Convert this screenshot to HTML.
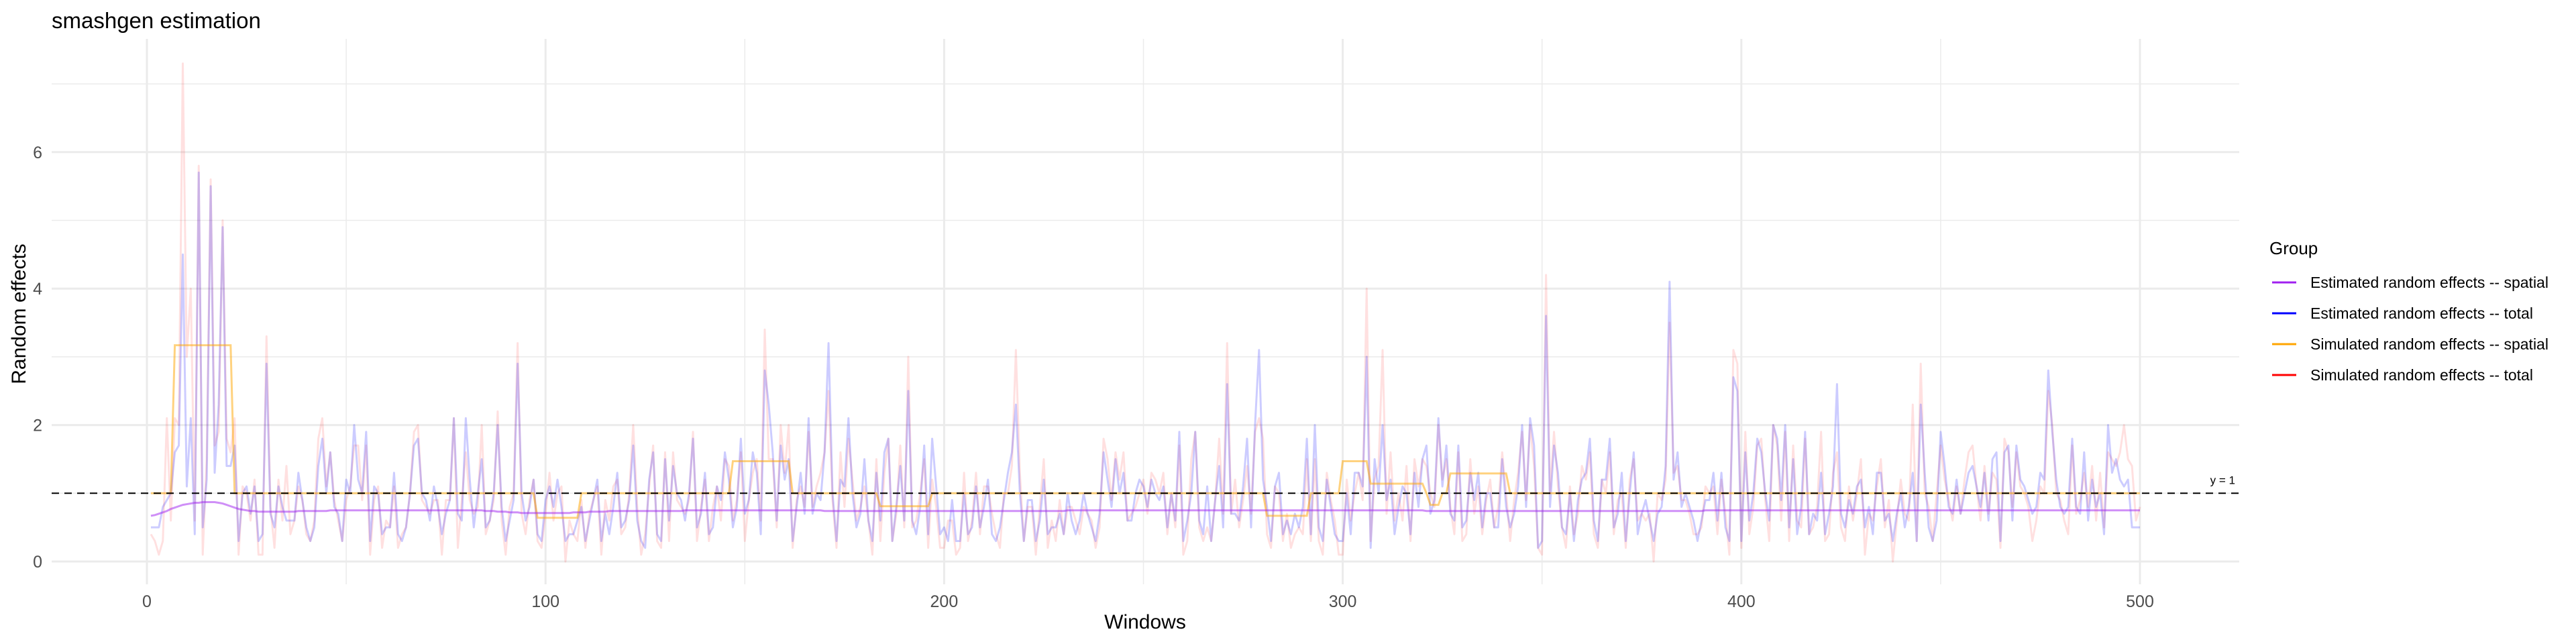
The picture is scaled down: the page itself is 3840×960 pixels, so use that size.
<!DOCTYPE html>
<html><head><meta charset="utf-8">
<style>
html,body{margin:0;padding:0;background:#fff;}
svg{display:block;font-family:"Liberation Sans",sans-serif;}
</style></head>
<body>
<svg id="chart" width="3840" height="960" viewBox="0 0 3840 960" xmlns="http://www.w3.org/2000/svg">
  <text x="77" y="42" font-size="33" fill="#000">smashgen estimation</text>
  <g id="grid"></g>
  <g id="series"></g>
  <g id="axes"></g>
  <text x="1707" y="937" font-size="30" text-anchor="middle" fill="#000">Windows</text>
  <text transform="translate(38,468) rotate(-90)" font-size="30" text-anchor="middle" fill="#000">Random effects</text>
  <g>
    <text x="3383" y="379" font-size="26" fill="#000">Group</text>
    <g>
      <line x1="3387" y1="421" x2="3423" y2="421" stroke="#a020f0" stroke-width="3"/>
      <text x="3444" y="429" font-size="23" fill="#000">Estimated random effects -- spatial</text>
    </g>
    <g>
      <line x1="3387" y1="467" x2="3423" y2="467" stroke="#0000ff" stroke-width="3"/>
      <text x="3444" y="475" font-size="23" fill="#000">Estimated random effects -- total</text>
    </g>
    <g>
      <line x1="3387" y1="513" x2="3423" y2="513" stroke="#ffa500" stroke-width="3"/>
      <text x="3444" y="521" font-size="23" fill="#000">Simulated random effects -- spatial</text>
    </g>
    <g>
      <line x1="3387" y1="559" x2="3423" y2="559" stroke="#ff0000" stroke-width="3"/>
      <text x="3444" y="567" font-size="23" fill="#000">Simulated random effects -- total</text>
    </g>
  </g>
</svg>
<script>
const xTicks = [0,100,200,300,400,500];
const xMinorTicks = [50,150,250,350,450];
const yTicks = [0,2,4,6];
const yMinorTicks = [1,3,5,7];
const refLineValue = 1;
const refLineLabel = "y = 1";

const estTotal = [
0.5,0.5,0.5,0.8,0.9,1.0,1.6,1.7,4.5,1.1,2.1,0.4,5.7,0.5,1.2,5.5,1.3,2.3,4.9,1.4,1.4,1.7,0.3,1.0,1.1,
0.7,1.1,0.3,0.4,2.9,0.7,0.5,1.1,0.8,0.6,0.6,0.6,1.3,0.9,0.5,0.3,0.5,1.4,1.8,1.0,1.6,0.8,0.7,0.3,1.2,
1.0,2.0,1.2,1.0,1.9,0.3,1.1,1.0,0.4,0.5,0.5,1.3,0.4,0.3,0.5,1.0,1.7,1.8,1.0,0.9,0.6,1.1,0.8,0.4,0.7,
0.9,2.1,0.7,0.6,2.1,1.2,0.5,1.0,1.5,0.5,0.6,1.0,2.0,0.8,0.3,0.6,0.9,2.9,1.0,0.6,0.8,1.2,0.4,0.3,0.9,
1.1,0.8,1.2,0.8,0.3,0.4,0.4,0.6,0.8,0.3,0.6,0.9,1.2,0.3,0.7,0.4,0.8,1.3,0.5,0.6,0.9,1.7,0.6,0.3,0.2,
1.2,1.6,0.4,0.3,1.5,0.6,1.4,1.0,0.9,0.6,1.0,1.8,0.5,0.7,1.3,0.4,0.5,1.1,0.9,1.6,1.2,0.5,0.8,1.8,0.7,
0.9,1.6,1.3,0.4,2.8,2.3,1.6,0.6,1.7,1.2,1.5,0.3,0.8,1.3,0.7,2.1,0.7,1.0,0.9,1.6,3.2,1.0,0.3,1.2,1.1,
2.1,1.0,0.5,0.7,1.5,0.6,0.3,1.3,0.6,1.6,1.8,0.3,0.8,1.4,0.6,2.5,0.6,0.4,0.8,1.7,0.4,1.8,1.1,0.4,0.5,
0.3,0.9,0.3,0.3,1.0,0.4,0.5,1.1,0.5,0.8,1.2,0.4,0.3,0.5,0.9,1.3,1.6,2.3,1.0,0.3,0.9,0.9,0.3,0.6,1.2,
0.4,0.5,0.5,0.7,0.4,1.0,0.6,0.4,0.6,1.0,0.7,0.5,0.3,0.7,1.6,1.2,0.8,1.5,1.0,1.3,0.6,0.6,1.0,1.2,1.1,
0.8,1.2,1.0,0.9,1.1,0.5,1.0,0.6,1.9,0.3,0.6,1.0,1.9,0.6,0.4,1.1,0.3,0.9,1.4,0.5,2.6,0.7,0.7,0.6,1.1,
1.8,0.5,2.0,3.1,1.2,0.8,0.3,1.1,1.3,0.4,0.6,0.4,0.7,0.5,0.8,1.8,0.4,2.0,0.5,0.3,1.2,0.8,0.4,0.3,0.3,
1.0,0.4,1.3,1.3,1.1,3.0,0.2,1.5,1.0,2.0,0.9,1.2,0.4,0.8,1.1,1.0,0.4,1.3,0.8,1.5,1.7,0.7,0.9,2.1,1.1,
1.7,0.7,0.6,1.7,0.5,0.6,1.3,0.9,1.3,0.5,1.0,1.0,0.5,0.5,1.5,0.8,0.5,0.7,1.1,2.0,0.8,2.1,1.7,0.2,0.3,
3.6,0.8,1.7,1.3,0.5,0.4,1.0,0.3,0.9,1.2,1.3,1.8,0.6,0.3,1.2,1.2,1.8,0.5,0.7,1.3,0.3,1.0,1.6,0.4,0.7,
0.9,0.6,0.3,0.7,0.8,1.4,4.1,1.2,1.6,0.8,1.0,0.8,0.6,0.3,0.6,0.9,0.9,1.3,0.6,1.3,0.5,0.3,2.7,2.5,0.3,
1.6,0.6,1.0,1.8,1.6,1.0,0.6,2.0,1.8,0.9,2.0,0.5,1.5,0.4,0.8,1.9,0.4,0.7,0.6,1.3,0.4,0.7,1.1,2.6,0.7,
0.5,0.9,0.7,1.1,1.2,0.5,0.8,0.4,1.3,1.3,0.6,0.7,0.3,0.7,1.0,0.5,0.8,1.3,0.3,2.3,1.3,0.5,0.3,0.6,1.9,
1.4,0.8,0.7,1.2,0.7,1.0,1.3,1.4,1.1,0.8,1.3,0.6,1.5,1.6,0.3,1.6,1.7,0.6,1.7,1.2,1.1,0.9,0.7,0.8,1.3,
1.2,2.8,1.9,1.2,0.8,0.7,0.8,1.8,0.8,0.7,1.6,0.6,1.2,0.8,1.0,0.4,2.0,1.3,1.5,1.2,1.1,1.2,0.5,0.5,0.5
];

const simTotal = [
0.4,0.3,0.1,0.3,2.1,0.6,2.1,2.0,7.3,3.0,4.0,0.6,5.8,0.1,1.5,5.6,1.7,1.9,5.0,1.8,1.6,2.1,0.1,1.1,1.0,
0.6,1.2,0.1,0.1,3.3,0.8,0.2,1.2,0.6,1.4,0.4,0.6,1.1,0.9,0.4,0.3,0.6,1.8,2.1,1.1,1.6,0.9,0.6,0.3,0.9,
1.1,1.7,1.7,0.9,1.7,0.1,0.9,1.1,0.2,0.6,0.5,1.1,0.2,0.4,0.5,1.0,1.9,2.0,0.9,0.8,0.7,0.9,0.9,0.1,0.9,
0.9,2.1,0.2,0.9,1.6,0.9,0.7,0.8,2.0,0.4,0.6,0.9,2.2,0.6,0.1,0.8,1.0,3.2,0.7,0.4,0.9,1.2,0.3,0.2,0.7,
1.3,0.6,1.0,1.1,0.0,0.6,0.4,0.3,0.9,0.2,0.7,0.9,1.1,0.1,0.9,0.6,1.1,1.2,0.4,0.5,1.0,2.0,0.8,0.1,0.4,
1.1,1.7,0.3,0.2,1.6,0.3,1.6,0.9,0.8,0.7,0.9,1.9,0.3,0.8,1.2,0.3,0.8,1.1,0.6,1.5,1.4,0.6,0.9,1.6,0.3,
0.9,1.3,1.5,0.6,3.4,1.5,1.5,0.5,2.0,1.3,2.0,0.2,0.9,1.1,0.8,1.9,0.8,1.1,1.3,1.6,2.5,0.9,0.2,1.6,0.8,
1.8,1.2,0.6,0.8,1.1,0.6,0.1,1.5,0.3,1.3,1.8,0.3,0.7,1.7,0.5,3.0,0.5,0.6,1.0,1.5,0.2,1.2,0.8,0.2,0.2,
0.6,0.6,0.1,0.2,1.3,0.3,0.6,1.3,0.4,1.1,1.1,0.7,0.4,0.2,1.0,1.0,1.4,3.1,1.3,0.3,0.8,0.8,0.1,0.8,1.5,
0.2,0.6,0.3,0.9,0.4,0.8,0.8,0.6,0.4,0.8,0.7,0.6,0.2,0.5,1.8,1.5,0.9,1.6,1.2,1.6,0.6,0.7,0.8,1.0,1.2,
0.7,1.3,1.2,1.0,1.3,0.4,1.0,0.5,1.7,0.1,0.3,1.5,1.9,0.5,0.3,0.5,0.3,0.9,1.8,0.7,3.2,0.7,1.2,0.5,0.9,
1.4,0.7,1.9,2.1,1.8,0.4,0.2,1.1,1.0,0.3,0.7,0.2,0.4,0.5,0.4,1.5,0.3,1.5,0.3,0.1,1.3,0.9,0.6,0.1,0.1,
1.2,0.6,1.0,1.3,0.9,4.0,0.3,1.2,1.4,3.1,0.7,1.6,0.6,1.0,0.6,1.4,0.3,1.5,1.1,1.5,1.4,1.0,0.8,2.0,1.2,
1.5,0.8,0.4,1.6,0.3,0.4,1.5,0.7,1.1,0.4,0.9,1.2,0.5,0.8,1.6,1.0,0.3,0.9,1.3,1.9,0.9,2.0,1.4,0.2,0.1,
4.2,1.0,1.9,1.1,0.5,0.2,1.1,0.4,0.7,1.4,1.2,1.6,0.4,0.2,1.2,1.0,1.6,0.4,0.9,1.0,0.2,1.2,1.5,0.6,0.7,
0.6,0.7,0.0,1.0,0.9,1.2,3.5,1.3,1.4,0.9,0.9,0.7,0.4,0.4,0.5,1.1,1.0,1.1,0.4,1.2,0.7,0.1,3.1,2.9,0.2,
1.9,0.4,0.8,1.7,1.8,0.9,0.3,2.0,1.7,0.6,1.9,0.3,1.7,0.6,0.5,1.8,0.4,0.5,0.8,1.9,0.3,0.4,1.3,1.6,0.5,
0.3,1.1,0.6,1.0,1.5,0.1,0.7,0.6,1.1,1.5,0.5,0.9,0.0,0.6,1.2,0.7,0.6,2.3,0.3,2.9,1.0,0.8,0.3,1.0,1.7,
1.2,0.9,0.6,1.1,0.7,1.2,1.6,1.7,1.1,0.6,1.4,0.7,1.3,1.2,0.2,1.8,1.6,0.8,1.6,1.1,1.0,0.8,0.3,0.6,1.1,
1.0,2.5,2.0,1.0,0.9,0.6,0.4,1.7,0.7,0.9,1.3,0.8,1.4,0.6,1.3,0.5,1.6,1.5,1.4,1.6,2.0,1.5,1.4,0.6,0.8
];

// simulated spatial effect: constant runs [startWindow, value]
const simSpatialRunStarts = [1,7,22,98,109,147,162,184,197,281,292,300,307,321,322,325,327,342];
const simSpatialRunValues = [1,3.17,1,0.64,1,1.47,1,0.81,1,0.67,1,1.47,1.14,1,0.83,1,1.29,1];

const estSpatial = [
0.67,0.68,0.70,0.72,0.74,0.77,0.79,0.81,0.83,0.84,0.85,0.86,0.86,0.87,0.87,0.87,0.87,0.86,0.85,0.83,
0.81,0.79,0.77,0.76,0.75,0.74,0.74,0.73,0.73,0.73,0.73,0.73,0.73,0.73,0.73,0.73,0.73,0.74,0.74,0.74,
0.74,0.74,0.74,0.74,0.74,0.75,0.75,0.75,0.75,0.75,0.75,0.75,0.75,0.75,0.75,0.75,0.75,0.75,0.75,0.75,
0.75,0.75,0.75,0.75,0.75,0.75,0.75,0.75,0.75,0.75,0.75,0.75,0.75,0.75,0.75,0.75,0.75,0.75,0.75,0.75,
0.75,0.75,0.75,0.75,0.74,0.74,0.74,0.73,0.73,0.73,0.72,0.72,0.72,0.71,0.71,0.71,0.71,0.71,0.71,0.71,
0.71,0.71,0.71,0.71,0.71,0.71,0.72,0.72,0.72,0.72,0.73,0.73,0.73,0.73,0.73,0.74,0.74,0.74,0.74,0.74,
0.74,0.74,0.74,0.74,0.74,0.74,0.74,0.74,0.74,0.74,0.74,0.74,0.74,0.74,0.75,0.75,0.75,0.75,0.75,0.75,
0.75,0.75,0.75,0.75,0.75,0.75,0.75,0.75,0.75,0.75,0.75,0.75,0.75,0.75,0.75,0.75,0.75,0.75,0.75,0.75,
0.75,0.75,0.75,0.75,0.75,0.75,0.75,0.75,0.75,0.74,0.74,0.74,0.74,0.74,0.74,0.74,0.74,0.74,0.74,0.74,
0.74,0.74,0.74,0.74,0.74,0.74,0.74,0.74,0.74,0.74,0.74,0.74,0.74,0.74,0.74,0.74,0.74,0.74,0.74,0.74,
0.74,0.74,0.74,0.74,0.74,0.74,0.74,0.74,0.74,0.74,0.74,0.74,0.74,0.74,0.74,0.74,0.74,0.74,0.74,0.74,
0.74,0.74,0.74,0.74,0.74,0.74,0.74,0.74,0.74,0.74,0.75,0.75,0.75,0.75,0.75,0.75,0.75,0.75,0.75,0.75,
0.75,0.75,0.75,0.75,0.75,0.75,0.75,0.75,0.75,0.75,0.75,0.75,0.75,0.75,0.75,0.75,0.75,0.75,0.75,0.75,
0.75,0.75,0.75,0.75,0.75,0.75,0.75,0.75,0.75,0.75,0.75,0.75,0.75,0.75,0.75,0.75,0.75,0.75,0.75,0.75,
0.75,0.75,0.75,0.75,0.75,0.75,0.75,0.75,0.75,0.75,0.75,0.75,0.75,0.75,0.75,0.75,0.75,0.75,0.75,0.75,
0.75,0.75,0.75,0.75,0.75,0.75,0.75,0.75,0.75,0.75,0.75,0.75,0.75,0.75,0.75,0.75,0.75,0.75,0.75,0.75,
0.74,0.74,0.74,0.74,0.74,0.74,0.74,0.74,0.74,0.74,0.74,0.74,0.74,0.74,0.74,0.74,0.74,0.74,0.74,0.74,
0.74,0.74,0.74,0.74,0.74,0.74,0.74,0.74,0.74,0.74,0.74,0.74,0.74,0.74,0.74,0.74,0.74,0.74,0.74,0.74,
0.74,0.74,0.74,0.74,0.74,0.74,0.74,0.74,0.74,0.74,0.74,0.74,0.74,0.74,0.74,0.74,0.74,0.74,0.74,0.74,
0.74,0.74,0.74,0.74,0.74,0.74,0.74,0.74,0.74,0.74,0.75,0.75,0.75,0.75,0.75,0.75,0.75,0.75,0.75,0.75,
0.75,0.75,0.75,0.75,0.75,0.75,0.75,0.75,0.75,0.75,0.75,0.75,0.75,0.75,0.75,0.75,0.75,0.75,0.75,0.75,
0.75,0.75,0.75,0.75,0.75,0.75,0.75,0.75,0.75,0.75,0.75,0.75,0.75,0.75,0.75,0.75,0.75,0.75,0.75,0.75,
0.75,0.75,0.75,0.75,0.75,0.75,0.75,0.75,0.75,0.75,0.75,0.75,0.75,0.75,0.75,0.75,0.75,0.75,0.75,0.75,
0.75,0.75,0.75,0.75,0.75,0.75,0.75,0.75,0.75,0.75,0.75,0.75,0.75,0.75,0.75,0.75,0.75,0.75,0.75,0.75,
0.75,0.75,0.75,0.75,0.75,0.75,0.75,0.75,0.75,0.75,0.75,0.75,0.75,0.75,0.75,0.75,0.75,0.75,0.75,0.75
];

const NS = "http://www.w3.org/2000/svg";
const panel = {left:77, right:3338, top:58, bottom:871};
function xScale(v){ return 219 + (v - 0) * (3190 - 219) / 500; }
function yScale(v){ return 837 - v * 101.7; }
function mk(tag, attrs, parent){
  const el = document.createElementNS(NS, tag);
  for (const k in attrs) el.setAttribute(k, attrs[k]);
  parent.appendChild(el);
  return el;
}
const grid = document.getElementById('grid');
const axes = document.getElementById('axes');
const series = document.getElementById('series');

yMinorTicks.forEach(v => {
  const l = mk('line', {x1:panel.left, x2:panel.right, y1:yScale(v), y2:yScale(v), stroke:'#ebebeb', 'stroke-width':1.5}, grid);
  
  
});
xMinorTicks.forEach(v => {
  const l = mk('line', {x1:xScale(v), x2:xScale(v), y1:panel.top, y2:panel.bottom, stroke:'#ebebeb', 'stroke-width':1.5}, grid);
  
  
});
yTicks.forEach(v => {
  const l = mk('line', {x1:panel.left, x2:panel.right, y1:yScale(v), y2:yScale(v), stroke:'#ebebeb', 'stroke-width':3}, grid);
  
  
  const t = mk('text', {x:63, y:yScale(v)+9, 'font-size':25, fill:'#4d4d4d', 'text-anchor':'end'}, axes);
  t.textContent = v;
  
  
});
xTicks.forEach(v => {
  const l = mk('line', {x1:xScale(v), x2:xScale(v), y1:panel.top, y2:panel.bottom, stroke:'#ebebeb', 'stroke-width':3}, grid);
  
  
  const t = mk('text', {x:xScale(v), y:905, 'font-size':25, fill:'#4d4d4d', 'text-anchor':'middle'}, axes);
  t.textContent = v;
  
  
});

function pathFrom(vals){
  return vals.map((v,i) => (i ? 'L' : 'M') + xScale(i+1).toFixed(2) + ',' + yScale(v).toFixed(2)).join('');
}
const simSpatial = [];
for (let w = 1; w <= 500; w++) {
  let val = simSpatialRunValues[0];
  for (let r = 0; r < simSpatialRunStarts.length; r++) if (w >= simSpatialRunStarts[r]) val = simSpatialRunValues[r];
  simSpatial.push(val);
}

const pRed = mk('path', {d:pathFrom(simTotal), fill:'none', stroke:'rgba(255,0,0,0.12)', 'stroke-width':3, 'stroke-linejoin':'round'}, series);


const pBlue = mk('path', {d:pathFrom(estTotal), fill:'none', stroke:'rgba(0,0,255,0.2)', 'stroke-width':3, 'stroke-linejoin':'round'}, series);


const pOrange = mk('path', {d:pathFrom(simSpatial), fill:'none', stroke:'rgba(255,165,0,0.5)', 'stroke-width':3}, series);


const pPurple = mk('path', {d:pathFrom(estSpatial), fill:'none', stroke:'rgba(160,32,240,0.5)', 'stroke-width':3}, series);



const ref = mk('line', {x1:panel.left, x2:panel.right, y1:yScale(refLineValue), y2:yScale(refLineValue), stroke:'#000', 'stroke-width':2, 'stroke-dasharray':'11 8'}, series);


const refT = mk('text', {x:3332, y:yScale(refLineValue)-14, 'font-size':17, fill:'#000', 'text-anchor':'end'}, series);
refT.textContent = refLineLabel;


</script>
</body></html>
